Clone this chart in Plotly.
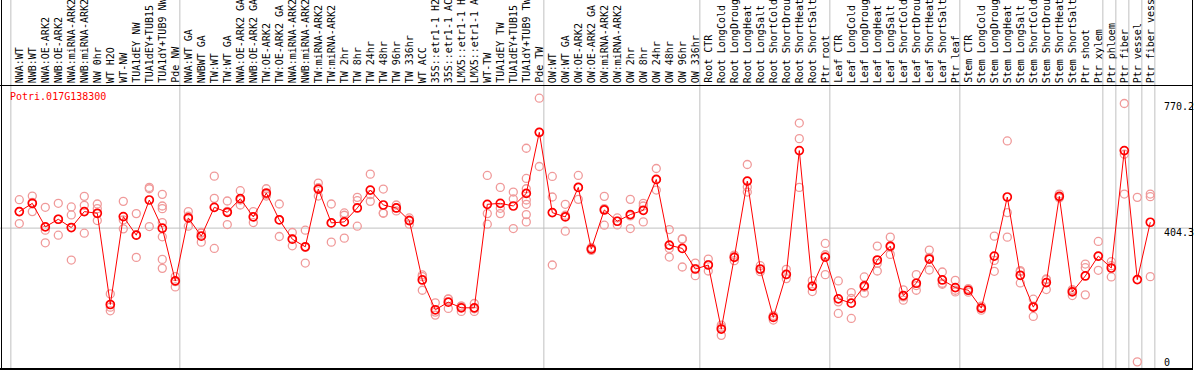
import plotly.graph_objects as go

# ---------------- data ----------------
labels = [
    "NWA:WT", "NWB:WT", "NWA:OE-ARK2", "NWB:OE-ARK2", "NWA:miRNA-ARK2", "NWB:miRNA-ARK2",
    "NW 0hr", "WT H2O", "WT-NW", "TUA1dEY NW", "TUA1dEY+TUB15", "TUA1dY+TUB9 NW", "Pde NW",
    "NWA:WT GA", "NWBWT GA", "TW:WT", "TW:WT GA", "NWA:OE-ARK2 GA", "NWB:OE-ARK2 GA",
    "TW:OE-ARK2", "TW:OE-ARK2 GA", "NWA:miRNA-ARK2", "NWB:miRNA-ARK2", "TW:miRNA-ARK2",
    "TW:miRNA-ARK2", "TW 2hr", "TW 8hr", "TW 24hr", "TW 48hr", "TW 96hr", "TW 336hr",
    "WT ACC", "35S::etr1-1 H2", "35S::etr1-1 AC", "LMX5::etr1-1 H", "LMX5::etr1-1 A",
    "WT-TW", "TUA1dEY TW", "TUA1dEY+TUB15", "TUA1dY+TUB9 TW", "Pde TW",
    "OW:WT", "OW:WT GA", "OW:OE-ARK2", "OW:OE-ARK2 GA", "OW:miRNA-ARK2", "OW:miRNA-ARK2",
    "OW 2hr", "OW 8hr", "OW 24hr", "OW 48hr", "OW 96hr", "OW 336hr",
    "Root CTR", "Root LongCold", "Root LongDroug", "Root LongHeat", "Root LongSalt",
    "Root ShortCold", "Root ShortDrou", "Root ShortHeat", "Root ShortSalt", "Ptr root",
    "Leaf CTR", "Leaf LongCold", "Leaf LongDroug", "Leaf LongHeat", "Leaf LongSalt",
    "Leaf ShortCold", "Leaf ShortDrou", "Leaf ShortHeat", "Leaf ShortSalt", "Ptr leaf",
    "Stem CTR", "Stem LongCold", "Stem LongDroug", "Stem LongHeat", "Stem LongSalt",
    "Stem ShortCold", "Stem ShortDrou", "Stem ShortHeat", "Stem ShortSalt", "Ptr shoot",
    "Ptr xylem", "Ptr phloem", "Ptr fiber", "Ptr vessel", "Ptr fiber vess",
]

means = [
    454, 479, 408, 431, 406, 454, 449, 174, 439, 383, 489, 404, 245,
    435, 380, 467, 452, 493, 438, 510, 429, 371, 348, 522, 420, 423, 465, 519, 474,
    465, 427, 248, 158, 181, 164, 164, 476, 479, 471, 509, 693,
    451, 438, 527, 341, 459, 425, 445, 458, 551, 353, 343, 281,
    293, 100, 316, 546, 281, 135, 265, 638, 229, 317,
    191, 178, 230, 308, 350, 201, 238, 311, 248, 225,
    217, 163, 320, 498, 262, 166, 240, 500, 212, 260, 320,
    284, 638, 249, 422,
]

replicates = [
    [490, 454, 418], [501, 482, 454], [467, 398, 360], [479, 431, 383], [468, 444, 308],
    [500, 473, 389], [477, 463, 427], [206, 166, 155], [485, 429, 402], [448, 384, 316],
    [527, 523, 409], [506, 471, 463, 421, 378, 310, 283], [258, 243, 227],
    [454, 440, 410], [391, 389, 362], [561, 494, 343], [486, 455, 415], [517, 489, 474],
    [454, 439, 421], [523, 506, 501], [477, 430, 379], [391, 372, 351], [398, 346, 299],
    [540, 526, 501], [477, 420, 362], [450, 443, 374], [497, 487, 410], [567, 505, 485],
    [522, 450, 449], [474, 465, 456], [435, 429, 416], [263, 258, 217], [179, 151, 142],
    [191, 190, 162], [169, 169, 153], [177, 161, 153], [563, 448, 416], [527, 464, 448],
    [513, 492, 403], [645, 554, 523, 489, 476, 445, 423], [796, 693, 590],
    [560, 498, 293], [476, 443, 395], [563, 527, 491], [346, 341, 337], [500, 463, 413],
    [435, 425, 414], [491, 441, 403], [479, 471, 423], [584, 550, 519], [400, 343, 317],
    [371, 372, 287], [299, 282, 261],
    [311, 294, 275], [112, 106, 81], [323, 318, 306], [596, 528, 513], [291, 279, 273],
    [141, 137, 127], [280, 264, 252], [721, 674, 527], [246, 229, 213], [358, 324, 264],
    [245, 182, 147], [210, 192, 132], [257, 226, 208], [350, 298, 275], [377, 347, 325],
    [218, 197, 187], [264, 231, 217], [338, 316, 278], [272, 238, 235], [247, 217, 212],
    [222, 218, 211], [169, 163, 157], [380, 307, 274], [667, 451, 377], [276, 273, 239],
    [190, 169, 138], [251, 249, 219], [507, 498, 495], [219, 216, 201], [296, 285, 203],
    [364, 319, 277],
    [303, 291, 257], [780, 627, 507], [497, 1], [507, 499, 258],
]

group_starts = [0, 13, 41, 53, 63, 73, 84, 85, 86, 87, 88]
y_ticks = [0, 404.3, 770.2]
y_tick_text = ["0", "404.3", "770.2"]
grid_value = 404.3
gene_id = "Potri.017G138300"

# ---------------- layout helpers ----------------
W, H = 1194, 370
X_RANGE = [-1.4846, 90.3615]
Y_RANGE = [-23.5, 1092.0]
LABEL_BASE = 84      # px from top: bottom of label band
PLOT_BOTTOM = 369
RIGHT_EDGE = 1192


def px_x(p):
    return p / W


def px_y(p):
    return 1 - p / H


mono = "DejaVu Sans Mono"

fig = go.Figure()

rep_x, rep_y = [], []
for i, reps in enumerate(replicates):
    for v in reps:
        rep_x.append(i)
        rep_y.append(v)

fig.add_trace(go.Scatter(
    x=rep_x, y=rep_y, mode="markers",
    marker=dict(symbol="circle-open", size=8, color="#F09A9A", line=dict(width=1.3)),
    hoverinfo="skip",
))
fig.add_trace(go.Scatter(
    x=list(range(len(means))), y=means, mode="lines+markers",
    line=dict(color="#FF0000", width=1),
    marker=dict(symbol="circle-open", size=8, color="#FF0000", line=dict(width=1.7)),
))

shapes = []
for s in group_starts:
    shapes.append(dict(type="line", xref="x", yref="paper", x0=s - 0.65, x1=s - 0.65,
                       y0=px_y(PLOT_BOTTOM), y1=1, line=dict(color="#C0C0C0", width=1),
                       layer="below"))
shapes.append(dict(type="line", xref="paper", yref="y", x0=0, x1=px_x(RIGHT_EDGE),
                   y0=grid_value, y1=grid_value, line=dict(color="#C0C0C0", width=1),
                   layer="below"))
shapes.append(dict(type="line", xref="paper", yref="paper", x0=px_x(1.5), x1=px_x(1.5),
                   y0=px_y(PLOT_BOTTOM + 0.5), y1=1, line=dict(color="black", width=1)))
shapes.append(dict(type="line", xref="paper", yref="paper", x0=px_x(RIGHT_EDGE + 0.5),
                   x1=px_x(RIGHT_EDGE + 0.5), y0=px_y(PLOT_BOTTOM + 0.5), y1=1,
                   line=dict(color="black", width=1)))
shapes.append(dict(type="line", xref="paper", yref="paper", x0=0, x1=px_x(RIGHT_EDGE + 1),
                   y0=px_y(85.5), y1=px_y(85.5), line=dict(color="black", width=1)))
shapes.append(dict(type="line", xref="paper", yref="paper", x0=0, x1=px_x(RIGHT_EDGE + 1),
                   y0=px_y(PLOT_BOTTOM), y1=px_y(PLOT_BOTTOM), line=dict(color="black", width=2)))

annotations = []
for i, lab in enumerate(labels):
    annotations.append(dict(x=i, xref="x", y=px_y(LABEL_BASE), yref="paper", text=lab,
                            textangle=-90, showarrow=False, xanchor="center",
                            yanchor="bottom", borderpad=0,
                            font=dict(family=mono, size=10, color="black")))
for v, t in zip(y_ticks, y_tick_text):
    annotations.append(dict(x=px_x(1163), xref="paper", y=v, yref="y", text=t,
                            showarrow=False, xanchor="left", yanchor="middle", borderpad=0,
                            yshift=-4.6 if v == grid_value else 0,
                            font=dict(family=mono, size=10, color="black")))
annotations.append(dict(x=px_x(9), xref="paper", y=px_y(96.7), yref="paper", text=gene_id,
                        showarrow=False, xanchor="left", yanchor="middle", borderpad=0,
                        font=dict(family=mono, size=10, color="#FF0000")))

fig.update_layout(
    width=W, height=H,
    margin=dict(l=0, r=0, t=0, b=0),
    paper_bgcolor="white", plot_bgcolor="white",
    showlegend=False,
    xaxis=dict(range=X_RANGE, visible=False, fixedrange=True),
    yaxis=dict(range=Y_RANGE, visible=False, fixedrange=True),
    shapes=shapes,
    annotations=annotations,
)

fig.write_html(
    "out.html",
    config={"displayModeBar": False},
    post_script="document.body.style.margin='0px';document.body.style.padding='0px';"
                "document.body.style.overflow='hidden';",
)
